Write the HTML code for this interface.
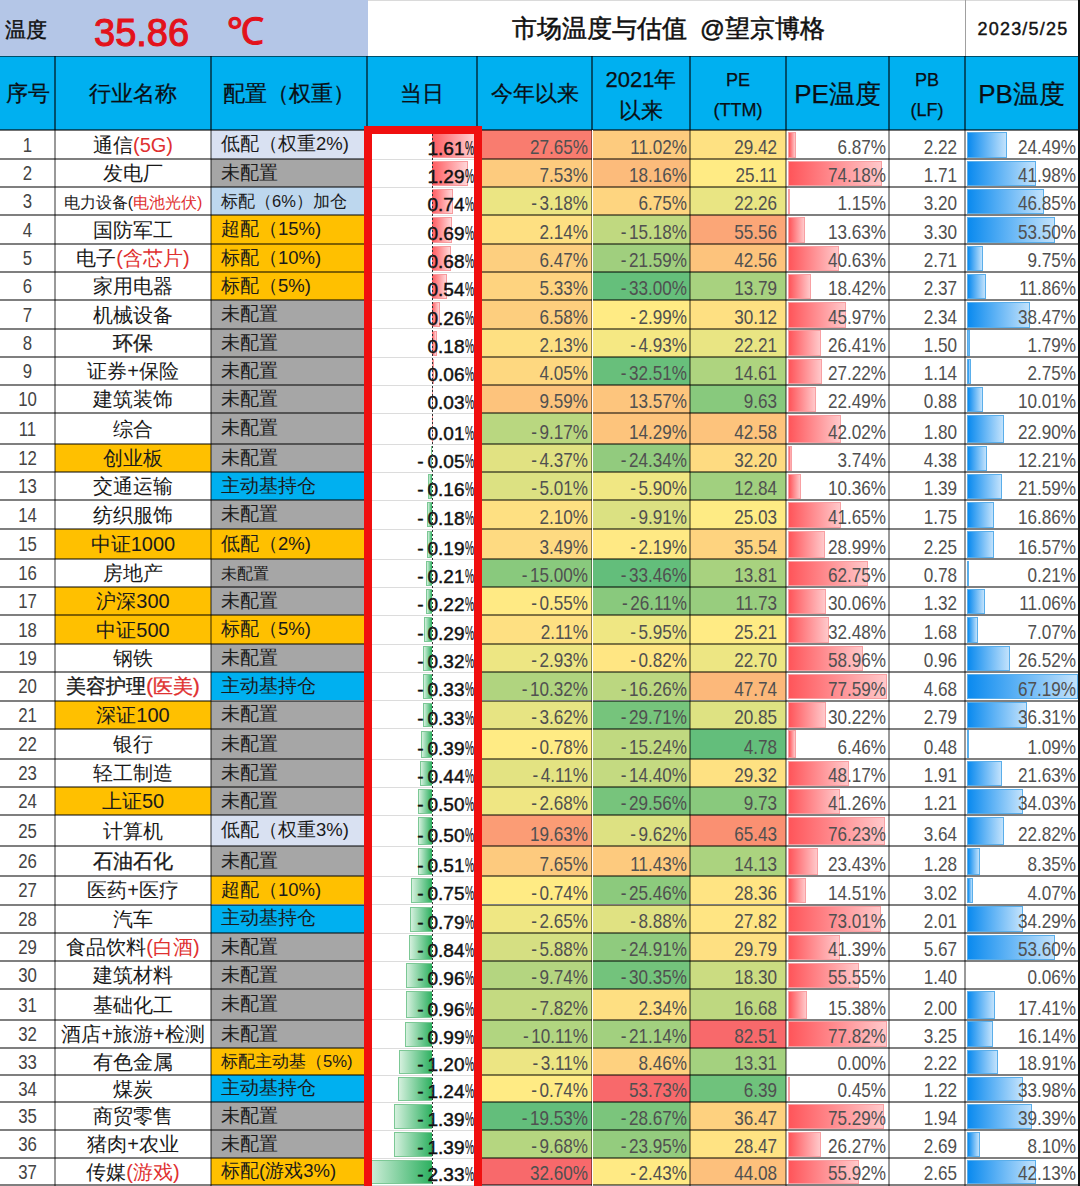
<!DOCTYPE html>
<html><head><meta charset="utf-8">
<style>
html,body{margin:0;padding:0;}
body{width:1080px;height:1186px;overflow:hidden;position:relative;background:#fff;
 font-family:"Liberation Sans",sans-serif;color:#222;}
div{position:absolute;box-sizing:border-box;}
.t{white-space:nowrap;line-height:1;}
.r{color:#E03030;}
.sm{font-size:16px;}
.bd{-webkit-text-stroke:0.35px currentColor;}
.sm2{font-size:19px;}
.num{font-size:21px;color:#505050;transform-origin:100% 50%;transform:scaleX(0.815);}
.day{font-size:19px;font-weight:normal;-webkit-text-stroke:0.45px #111;color:#111;transform-origin:100% 50%;}
.day i{font-style:normal;font-weight:normal;-webkit-text-stroke:0.2px #111;display:inline-block;width:8.5px;}
.day i span{display:inline-block;transform-origin:0 0;transform:scaleX(0.52);font-size:20px;}
.idx{font-size:20px;color:#444;transform:scaleX(0.84);text-align:center;}
.cjk{font-size:20px;color:#1a1a1a;}
.cfg{font-size:18.5px;color:#1a1a1a;}
.hd{font-size:22px;color:#0a0f14;text-align:center;-webkit-text-stroke:0.25px #0a0f14;}
</style></head><body>
<div style="left:0.0px;top:0.0px;width:368.0px;height:56.0px;background:#B4C6E7;"></div><div style="left:368.0px;top:0.0px;width:712.0px;height:1.0px;background:#DADADA;"></div><div style="left:964.5px;top:0.0px;width:1.5px;height:56.0px;background:#A0A0A0;"></div><div class="t" style="left:5px;top:19px;font-size:21px;color:#111;-webkit-text-stroke:0.4px #111;">温度</div><div class="t" style="left:94px;top:14px;font-size:38px;color:#E3121B;-webkit-text-stroke:1.1px #E3121B;">35.86</div><div class="t" style="left:227px;top:13px;font-size:37px;color:#E3121B;-webkit-text-stroke:1.1px #E3121B;">℃</div><div class="t" style="left:512px;top:17px;font-size:24.5px;color:#111;-webkit-text-stroke:0.5px #111;">市场温度与估值<span style="margin-left:13px">@</span>望京博格</div><div class="t" style="left:977.5px;top:20px;font-size:18px;color:#111;letter-spacing:1.2px;-webkit-text-stroke:0.4px #111;">2023/5/25</div><div style="left:0.0px;top:56.0px;width:1078.0px;height:74.0px;background:#00B0F0;"></div><div class="t hd" style="left:0px;width:55px;top:83px;font-size:22px;">序号</div><div class="t hd" style="left:55px;width:156px;top:83px;font-size:22px;">行业名称</div><div class="t hd" style="left:211px;width:156px;top:83px;font-size:22px;">配置（权重）</div><div class="t hd" style="left:367px;width:110px;top:83px;font-size:22px;">当日</div><div class="t hd" style="left:477px;width:115px;top:83px;font-size:22px;">今年以来</div><div class="t hd" style="left:592px;width:98px;top:63.5px;font-size:22px;line-height:31px;">2021年<br>以来</div><div class="t hd" style="left:690px;width:96px;top:65px;font-size:19px;line-height:30px;transform:scaleX(0.95);">PE<br>(TTM)</div><div class="t hd" style="left:786px;width:103px;top:81px;font-size:26px;">PE温度</div><div class="t hd" style="left:889px;width:76px;top:65px;font-size:19px;line-height:30px;transform:scaleX(0.95);">PB<br>(LF)</div><div class="t hd" style="left:965px;width:113px;top:81px;font-size:26px;">PB温度</div><div style="left:211.0px;top:130.0px;width:156.0px;height:29.4px;background:#D9E1F2;"></div><div style="left:477.0px;top:130.0px;width:115.0px;height:29.4px;background:#F97C6F;"></div><div style="left:592.0px;top:130.0px;width:98.0px;height:29.4px;background:#FDCB7E;"></div><div style="left:690.0px;top:130.0px;width:96.0px;height:29.4px;background:#FEE182;"></div><div style="left:432.3px;top:132.0px;width:44.7px;height:25.9px;background:linear-gradient(to right,#FF5A5F,#FFD6D8);border:1px solid #F79A9D;border-left:none;"></div><div style="left:787.5px;top:131.5px;width:8.8px;height:26.9px;background:linear-gradient(to right,#FF555A,#FFC8CA);border:1px solid #F8A0A3;"></div><div style="left:966.5px;top:131.5px;width:40.5px;height:26.9px;background:linear-gradient(to right,#0A8AEF,#C2E2FC);border:1px solid #5AAEEA;"></div><div class="t idx" style="left:0px;width:55px;top:134.7px;">1</div><div class="t cjk" style="left:55px;width:156px;top:134.7px;text-align:center;">通信<span class="r">(5G)</span></div><div class="t cfg" style="left:221px;top:135.2px;">低配（权重2%)</div><div class="t day" style="left:273px;width:200px;top:138.1px;text-align:right;">1.61<i><span>%</span></i></div><div class="t num" style="left:388px;width:200px;top:136.4px;text-align:right;">27.65%</div><div class="t num" style="left:487px;width:200px;top:136.4px;text-align:right;">11.02%</div><div class="t num" style="left:577px;width:200px;top:136.4px;text-align:right;">29.42</div><div class="t num" style="left:686px;width:200px;top:136.4px;text-align:right;">6.87%</div><div class="t num" style="left:757px;width:200px;top:136.4px;text-align:right;">2.22</div><div class="t num" style="left:876px;width:200px;top:136.4px;text-align:right;">24.49%</div><div style="left:211.0px;top:159.4px;width:156.0px;height:28.0px;background:#A6A6A6;"></div><div style="left:477.0px;top:159.4px;width:115.0px;height:28.0px;background:#FDCB7E;"></div><div style="left:592.0px;top:159.4px;width:98.0px;height:28.0px;background:#FCBB7B;"></div><div style="left:690.0px;top:159.4px;width:96.0px;height:28.0px;background:#FFEB84;"></div><div style="left:432.3px;top:161.4px;width:36.0px;height:24.5px;background:linear-gradient(to right,#FF5A5F,#FFD6D8);border:1px solid #F79A9D;border-left:none;"></div><div style="left:787.5px;top:160.9px;width:94.8px;height:25.5px;background:linear-gradient(to right,#FF555A,#FFC8CA);border:1px solid #F8A0A3;"></div><div style="left:966.5px;top:160.9px;width:69.4px;height:25.5px;background:linear-gradient(to right,#0A8AEF,#C2E2FC);border:1px solid #5AAEEA;"></div><div class="t idx" style="left:0px;width:55px;top:163.4px;">2</div><div class="t cjk" style="left:55px;width:156px;top:163.4px;text-align:center;">发电厂</div><div class="t cfg" style="left:221px;top:163.9px;">未配置</div><div class="t day" style="left:273px;width:200px;top:166.1px;text-align:right;">1.29<i><span>%</span></i></div><div class="t num" style="left:388px;width:200px;top:164.4px;text-align:right;">7.53%</div><div class="t num" style="left:487px;width:200px;top:164.4px;text-align:right;">18.16%</div><div class="t num" style="left:577px;width:200px;top:164.4px;text-align:right;">25.11</div><div class="t num" style="left:686px;width:200px;top:164.4px;text-align:right;">74.18%</div><div class="t num" style="left:757px;width:200px;top:164.4px;text-align:right;">1.71</div><div class="t num" style="left:876px;width:200px;top:164.4px;text-align:right;">41.98%</div><div style="left:211.0px;top:187.4px;width:156.0px;height:28.0px;background:#BDD7EE;"></div><div style="left:477.0px;top:187.4px;width:115.0px;height:28.0px;background:#EBE583;"></div><div style="left:592.0px;top:187.4px;width:98.0px;height:28.0px;background:#FED580;"></div><div style="left:690.0px;top:187.4px;width:96.0px;height:28.0px;background:#E9E583;"></div><div style="left:432.3px;top:189.4px;width:20.6px;height:24.5px;background:linear-gradient(to right,#FF5A5F,#FFD6D8);border:1px solid #F79A9D;border-left:none;"></div><div style="left:787.5px;top:188.9px;width:1.5px;height:25.5px;background:linear-gradient(to right,#FF555A,#FFC8CA);border:1px solid #F8A0A3;"></div><div style="left:966.5px;top:188.9px;width:77.4px;height:25.5px;background:linear-gradient(to right,#0A8AEF,#C2E2FC);border:1px solid #5AAEEA;"></div><div class="t idx" style="left:0px;width:55px;top:191.4px;">3</div><div class="t cjk" style="left:55px;width:156px;top:191.4px;text-align:center;"><span class="sm">电力设备(<span class="r">电池光伏)</span></span></div><div class="t cfg" style="left:221px;top:191.9px;"><span style="font-size:16.5px">标配（6%）加仓</span></div><div class="t day" style="left:273px;width:200px;top:194.1px;text-align:right;">0.74<i><span>%</span></i></div><div class="t num" style="left:388px;width:200px;top:192.4px;text-align:right;">-<span style="margin-left:3px"></span>3.18%</div><div class="t num" style="left:487px;width:200px;top:192.4px;text-align:right;">6.75%</div><div class="t num" style="left:577px;width:200px;top:192.4px;text-align:right;">22.26</div><div class="t num" style="left:686px;width:200px;top:192.4px;text-align:right;">1.15%</div><div class="t num" style="left:757px;width:200px;top:192.4px;text-align:right;">3.20</div><div class="t num" style="left:876px;width:200px;top:192.4px;text-align:right;">46.85%</div><div style="left:211.0px;top:215.4px;width:156.0px;height:28.9px;background:#FFC000;"></div><div style="left:477.0px;top:215.4px;width:115.0px;height:28.9px;background:#FEE082;"></div><div style="left:592.0px;top:215.4px;width:98.0px;height:28.9px;background:#C0D980;"></div><div style="left:690.0px;top:215.4px;width:96.0px;height:28.9px;background:#FBA677;"></div><div style="left:432.3px;top:217.4px;width:19.3px;height:25.4px;background:linear-gradient(to right,#FF5A5F,#FFD6D8);border:1px solid #F79A9D;border-left:none;"></div><div style="left:787.5px;top:216.9px;width:17.4px;height:26.4px;background:linear-gradient(to right,#FF555A,#FFC8CA);border:1px solid #F8A0A3;"></div><div style="left:966.5px;top:216.9px;width:88.4px;height:26.4px;background:linear-gradient(to right,#0A8AEF,#C2E2FC);border:1px solid #5AAEEA;"></div><div class="t idx" style="left:0px;width:55px;top:219.9px;">4</div><div class="t cjk" style="left:55px;width:156px;top:219.9px;text-align:center;">国防军工</div><div class="t cfg" style="left:221px;top:220.4px;">超配（15%)</div><div class="t day" style="left:273px;width:200px;top:223.0px;text-align:right;">0.69<i><span>%</span></i></div><div class="t num" style="left:388px;width:200px;top:221.3px;text-align:right;">2.14%</div><div class="t num" style="left:487px;width:200px;top:221.3px;text-align:right;">-<span style="margin-left:3px"></span>15.18%</div><div class="t num" style="left:577px;width:200px;top:221.3px;text-align:right;">55.56</div><div class="t num" style="left:686px;width:200px;top:221.3px;text-align:right;">13.63%</div><div class="t num" style="left:757px;width:200px;top:221.3px;text-align:right;">3.30</div><div class="t num" style="left:876px;width:200px;top:221.3px;text-align:right;">53.50%</div><div style="left:211.0px;top:244.3px;width:156.0px;height:28.1px;background:#FFC000;"></div><div style="left:477.0px;top:244.3px;width:115.0px;height:28.1px;background:#FDCF7F;"></div><div style="left:592.0px;top:244.3px;width:98.0px;height:28.1px;background:#A0CF7E;"></div><div style="left:690.0px;top:244.3px;width:96.0px;height:28.1px;background:#FDC37C;"></div><div style="left:432.3px;top:246.3px;width:19.0px;height:24.6px;background:linear-gradient(to right,#FF5A5F,#FFD6D8);border:1px solid #F79A9D;border-left:none;"></div><div style="left:787.5px;top:245.8px;width:51.9px;height:25.6px;background:linear-gradient(to right,#FF555A,#FFC8CA);border:1px solid #F8A0A3;"></div><div style="left:966.5px;top:245.8px;width:16.1px;height:25.6px;background:linear-gradient(to right,#0A8AEF,#C2E2FC);border:1px solid #5AAEEA;"></div><div class="t idx" style="left:0px;width:55px;top:248.4px;">5</div><div class="t cjk" style="left:55px;width:156px;top:248.4px;text-align:center;">电子<span class="r">(含芯片)</span></div><div class="t cfg" style="left:221px;top:248.9px;">标配（10%)</div><div class="t day" style="left:273px;width:200px;top:251.1px;text-align:right;">0.68<i><span>%</span></i></div><div class="t num" style="left:388px;width:200px;top:249.4px;text-align:right;">6.47%</div><div class="t num" style="left:487px;width:200px;top:249.4px;text-align:right;">-<span style="margin-left:3px"></span>21.59%</div><div class="t num" style="left:577px;width:200px;top:249.4px;text-align:right;">42.56</div><div class="t num" style="left:686px;width:200px;top:249.4px;text-align:right;">40.63%</div><div class="t num" style="left:757px;width:200px;top:249.4px;text-align:right;">2.71</div><div class="t num" style="left:876px;width:200px;top:249.4px;text-align:right;">9.75%</div><div style="left:211.0px;top:272.4px;width:156.0px;height:28.0px;background:#FFC000;"></div><div style="left:477.0px;top:272.4px;width:115.0px;height:28.0px;background:#FED37F;"></div><div style="left:592.0px;top:272.4px;width:98.0px;height:28.0px;background:#65BF7B;"></div><div style="left:690.0px;top:272.4px;width:96.0px;height:28.0px;background:#A8D27F;"></div><div style="left:432.3px;top:274.4px;width:15.1px;height:24.5px;background:linear-gradient(to right,#FF5A5F,#FFD6D8);border:1px solid #F79A9D;border-left:none;"></div><div style="left:787.5px;top:273.9px;width:23.6px;height:25.5px;background:linear-gradient(to right,#FF555A,#FFC8CA);border:1px solid #F8A0A3;"></div><div style="left:966.5px;top:273.9px;width:19.6px;height:25.5px;background:linear-gradient(to right,#0A8AEF,#C2E2FC);border:1px solid #5AAEEA;"></div><div class="t idx" style="left:0px;width:55px;top:276.4px;">6</div><div class="t cjk" style="left:55px;width:156px;top:276.4px;text-align:center;">家用电器</div><div class="t cfg" style="left:221px;top:276.9px;">标配（5%)</div><div class="t day" style="left:273px;width:200px;top:279.1px;text-align:right;">0.54<i><span>%</span></i></div><div class="t num" style="left:388px;width:200px;top:277.4px;text-align:right;">5.33%</div><div class="t num" style="left:487px;width:200px;top:277.4px;text-align:right;">-<span style="margin-left:3px"></span>33.00%</div><div class="t num" style="left:577px;width:200px;top:277.4px;text-align:right;">13.79</div><div class="t num" style="left:686px;width:200px;top:277.4px;text-align:right;">18.42%</div><div class="t num" style="left:757px;width:200px;top:277.4px;text-align:right;">2.37</div><div class="t num" style="left:876px;width:200px;top:277.4px;text-align:right;">11.86%</div><div style="left:211.0px;top:300.4px;width:156.0px;height:28.5px;background:#A6A6A6;"></div><div style="left:477.0px;top:300.4px;width:115.0px;height:28.5px;background:#FDCE7E;"></div><div style="left:592.0px;top:300.4px;width:98.0px;height:28.5px;background:#FFEB84;"></div><div style="left:690.0px;top:300.4px;width:96.0px;height:28.5px;background:#FEE082;"></div><div style="left:432.3px;top:302.4px;width:7.3px;height:25.0px;background:linear-gradient(to right,#FF5A5F,#FFD6D8);border:1px solid #F79A9D;border-left:none;"></div><div style="left:787.5px;top:301.9px;width:58.8px;height:26.0px;background:linear-gradient(to right,#FF555A,#FFC8CA);border:1px solid #F8A0A3;"></div><div style="left:966.5px;top:301.9px;width:63.6px;height:26.0px;background:linear-gradient(to right,#0A8AEF,#C2E2FC);border:1px solid #5AAEEA;"></div><div class="t idx" style="left:0px;width:55px;top:304.6px;">7</div><div class="t cjk" style="left:55px;width:156px;top:304.6px;text-align:center;">机械设备</div><div class="t cfg" style="left:221px;top:305.1px;">未配置</div><div class="t day" style="left:273px;width:200px;top:307.6px;text-align:right;">0.26<i><span>%</span></i></div><div class="t num" style="left:388px;width:200px;top:305.9px;text-align:right;">6.58%</div><div class="t num" style="left:487px;width:200px;top:305.9px;text-align:right;">-<span style="margin-left:3px"></span>2.99%</div><div class="t num" style="left:577px;width:200px;top:305.9px;text-align:right;">30.12</div><div class="t num" style="left:686px;width:200px;top:305.9px;text-align:right;">45.97%</div><div class="t num" style="left:757px;width:200px;top:305.9px;text-align:right;">2.34</div><div class="t num" style="left:876px;width:200px;top:305.9px;text-align:right;">38.47%</div><div style="left:211.0px;top:328.9px;width:156.0px;height:28.4px;background:#A6A6A6;"></div><div style="left:477.0px;top:328.9px;width:115.0px;height:28.4px;background:#FEE082;"></div><div style="left:592.0px;top:328.9px;width:98.0px;height:28.4px;background:#F5E883;"></div><div style="left:690.0px;top:328.9px;width:96.0px;height:28.4px;background:#E9E583;"></div><div style="left:432.3px;top:330.9px;width:5.0px;height:24.9px;background:linear-gradient(to right,#FF5A5F,#FFD6D8);border:1px solid #F79A9D;border-left:none;"></div><div style="left:787.5px;top:330.4px;width:33.8px;height:25.9px;background:linear-gradient(to right,#FF555A,#FFC8CA);border:1px solid #F8A0A3;"></div><div style="left:966.5px;top:330.4px;width:3.0px;height:25.9px;background:linear-gradient(to right,#0A8AEF,#C2E2FC);border:1px solid #5AAEEA;"></div><div class="t idx" style="left:0px;width:55px;top:333.1px;">8</div><div class="t cjk" style="left:55px;width:156px;top:333.1px;text-align:center;"><span class="bd">环保</span></div><div class="t cfg" style="left:221px;top:333.6px;">未配置</div><div class="t day" style="left:273px;width:200px;top:336.0px;text-align:right;">0.18<i><span>%</span></i></div><div class="t num" style="left:388px;width:200px;top:334.3px;text-align:right;">2.13%</div><div class="t num" style="left:487px;width:200px;top:334.3px;text-align:right;">-<span style="margin-left:3px"></span>4.93%</div><div class="t num" style="left:577px;width:200px;top:334.3px;text-align:right;">22.21</div><div class="t num" style="left:686px;width:200px;top:334.3px;text-align:right;">26.41%</div><div class="t num" style="left:757px;width:200px;top:334.3px;text-align:right;">1.50</div><div class="t num" style="left:876px;width:200px;top:334.3px;text-align:right;">1.79%</div><div style="left:211.0px;top:357.3px;width:156.0px;height:28.1px;background:#A6A6A6;"></div><div style="left:477.0px;top:357.3px;width:115.0px;height:28.1px;background:#FED880;"></div><div style="left:592.0px;top:357.3px;width:98.0px;height:28.1px;background:#68BF7B;"></div><div style="left:690.0px;top:357.3px;width:96.0px;height:28.1px;background:#AED47F;"></div><div style="left:432.3px;top:359.3px;width:1.7px;height:24.6px;background:linear-gradient(to right,#FF5A5F,#FFD6D8);border:1px solid #F79A9D;border-left:none;"></div><div style="left:787.5px;top:358.8px;width:34.8px;height:25.6px;background:linear-gradient(to right,#FF555A,#FFC8CA);border:1px solid #F8A0A3;"></div><div style="left:966.5px;top:358.8px;width:4.5px;height:25.6px;background:linear-gradient(to right,#0A8AEF,#C2E2FC);border:1px solid #5AAEEA;"></div><div class="t idx" style="left:0px;width:55px;top:361.4px;">9</div><div class="t cjk" style="left:55px;width:156px;top:361.4px;text-align:center;">证券+保险</div><div class="t cfg" style="left:221px;top:361.9px;">未配置</div><div class="t day" style="left:273px;width:200px;top:364.1px;text-align:right;">0.06<i><span>%</span></i></div><div class="t num" style="left:388px;width:200px;top:362.4px;text-align:right;">4.05%</div><div class="t num" style="left:487px;width:200px;top:362.4px;text-align:right;">-<span style="margin-left:3px"></span>32.51%</div><div class="t num" style="left:577px;width:200px;top:362.4px;text-align:right;">14.61</div><div class="t num" style="left:686px;width:200px;top:362.4px;text-align:right;">27.22%</div><div class="t num" style="left:757px;width:200px;top:362.4px;text-align:right;">1.14</div><div class="t num" style="left:876px;width:200px;top:362.4px;text-align:right;">2.75%</div><div style="left:211.0px;top:385.4px;width:156.0px;height:28.0px;background:#A6A6A6;"></div><div style="left:477.0px;top:385.4px;width:115.0px;height:28.0px;background:#FDC37C;"></div><div style="left:592.0px;top:385.4px;width:98.0px;height:28.0px;background:#FDC57D;"></div><div style="left:690.0px;top:385.4px;width:96.0px;height:28.0px;background:#88C97D;"></div><div style="left:432.3px;top:387.4px;width:0.8px;height:24.5px;background:linear-gradient(to right,#FF5A5F,#FFD6D8);border:1px solid #F79A9D;border-left:none;"></div><div style="left:787.5px;top:386.9px;width:28.8px;height:25.5px;background:linear-gradient(to right,#FF555A,#FFC8CA);border:1px solid #F8A0A3;"></div><div style="left:966.5px;top:386.9px;width:16.5px;height:25.5px;background:linear-gradient(to right,#0A8AEF,#C2E2FC);border:1px solid #5AAEEA;"></div><div class="t idx" style="left:0px;width:55px;top:389.4px;">10</div><div class="t cjk" style="left:55px;width:156px;top:389.4px;text-align:center;">建筑装饰</div><div class="t cfg" style="left:221px;top:389.9px;">未配置</div><div class="t day" style="left:273px;width:200px;top:392.1px;text-align:right;">0.03<i><span>%</span></i></div><div class="t num" style="left:388px;width:200px;top:390.4px;text-align:right;">9.59%</div><div class="t num" style="left:487px;width:200px;top:390.4px;text-align:right;">13.57%</div><div class="t num" style="left:577px;width:200px;top:390.4px;text-align:right;">9.63</div><div class="t num" style="left:686px;width:200px;top:390.4px;text-align:right;">22.49%</div><div class="t num" style="left:757px;width:200px;top:390.4px;text-align:right;">0.88</div><div class="t num" style="left:876px;width:200px;top:390.4px;text-align:right;">10.01%</div><div style="left:211.0px;top:413.4px;width:156.0px;height:30.9px;background:#A6A6A6;"></div><div style="left:477.0px;top:413.4px;width:115.0px;height:30.9px;background:#B9D780;"></div><div style="left:592.0px;top:413.4px;width:98.0px;height:30.9px;background:#FDC47C;"></div><div style="left:690.0px;top:413.4px;width:96.0px;height:30.9px;background:#FDC37C;"></div><div style="left:432.3px;top:415.4px;width:0.3px;height:27.4px;background:linear-gradient(to right,#FF5A5F,#FFD6D8);border:1px solid #F79A9D;border-left:none;"></div><div style="left:787.5px;top:414.9px;width:53.7px;height:28.4px;background:linear-gradient(to right,#FF555A,#FFC8CA);border:1px solid #F8A0A3;"></div><div style="left:966.5px;top:414.9px;width:37.8px;height:28.4px;background:linear-gradient(to right,#0A8AEF,#C2E2FC);border:1px solid #5AAEEA;"></div><div class="t idx" style="left:0px;width:55px;top:418.9px;">11</div><div class="t cjk" style="left:55px;width:156px;top:418.9px;text-align:center;">综合</div><div class="t cfg" style="left:221px;top:419.4px;">未配置</div><div class="t day" style="left:273px;width:200px;top:423.0px;text-align:right;">0.01<i><span>%</span></i></div><div class="t num" style="left:388px;width:200px;top:421.3px;text-align:right;">-<span style="margin-left:3px"></span>9.17%</div><div class="t num" style="left:487px;width:200px;top:421.3px;text-align:right;">14.29%</div><div class="t num" style="left:577px;width:200px;top:421.3px;text-align:right;">42.58</div><div class="t num" style="left:686px;width:200px;top:421.3px;text-align:right;">42.02%</div><div class="t num" style="left:757px;width:200px;top:421.3px;text-align:right;">1.80</div><div class="t num" style="left:876px;width:200px;top:421.3px;text-align:right;">22.90%</div><div style="left:55.0px;top:444.3px;width:156.0px;height:28.0px;background:#FFC000;"></div><div style="left:211.0px;top:444.3px;width:156.0px;height:28.0px;background:#A6A6A6;"></div><div style="left:477.0px;top:444.3px;width:115.0px;height:28.0px;background:#E1E282;"></div><div style="left:592.0px;top:444.3px;width:98.0px;height:28.0px;background:#92CB7E;"></div><div style="left:690.0px;top:444.3px;width:96.0px;height:28.0px;background:#FEDB81;"></div><div style="left:430.9px;top:446.3px;width:1.4px;height:24.5px;background:linear-gradient(to left,#2DB060,#D4F0DD);border:1px solid #7CC895;border-right:none;"></div><div style="left:787.5px;top:445.8px;width:4.8px;height:25.5px;background:linear-gradient(to right,#FF555A,#FFC8CA);border:1px solid #F8A0A3;"></div><div style="left:966.5px;top:445.8px;width:20.2px;height:25.5px;background:linear-gradient(to right,#0A8AEF,#C2E2FC);border:1px solid #5AAEEA;"></div><div class="t idx" style="left:0px;width:55px;top:448.3px;">12</div><div class="t cjk" style="left:55px;width:156px;top:448.3px;text-align:center;">创业板</div><div class="t cfg" style="left:221px;top:448.8px;">未配置</div><div class="t day" style="left:273px;width:200px;top:451.0px;text-align:right;">-<span style="margin-left:4px"></span>0.05<i><span>%</span></i></div><div class="t num" style="left:388px;width:200px;top:449.3px;text-align:right;">-<span style="margin-left:3px"></span>4.37%</div><div class="t num" style="left:487px;width:200px;top:449.3px;text-align:right;">-<span style="margin-left:3px"></span>24.34%</div><div class="t num" style="left:577px;width:200px;top:449.3px;text-align:right;">32.20</div><div class="t num" style="left:686px;width:200px;top:449.3px;text-align:right;">3.74%</div><div class="t num" style="left:757px;width:200px;top:449.3px;text-align:right;">4.38</div><div class="t num" style="left:876px;width:200px;top:449.3px;text-align:right;">12.21%</div><div style="left:211.0px;top:472.3px;width:156.0px;height:28.1px;background:#00B0F0;"></div><div style="left:477.0px;top:472.3px;width:115.0px;height:28.1px;background:#DCE182;"></div><div style="left:592.0px;top:472.3px;width:98.0px;height:28.1px;background:#F0E783;"></div><div style="left:690.0px;top:472.3px;width:96.0px;height:28.1px;background:#A1D07F;"></div><div style="left:427.8px;top:474.3px;width:4.5px;height:24.6px;background:linear-gradient(to left,#2DB060,#D4F0DD);border:1px solid #7CC895;border-right:none;"></div><div style="left:787.5px;top:473.8px;width:13.2px;height:25.6px;background:linear-gradient(to right,#FF555A,#FFC8CA);border:1px solid #F8A0A3;"></div><div style="left:966.5px;top:473.8px;width:35.7px;height:25.6px;background:linear-gradient(to right,#0A8AEF,#C2E2FC);border:1px solid #5AAEEA;"></div><div class="t idx" style="left:0px;width:55px;top:476.4px;">13</div><div class="t cjk" style="left:55px;width:156px;top:476.4px;text-align:center;">交通运输</div><div class="t cfg" style="left:221px;top:476.9px;">主动基持仓</div><div class="t day" style="left:273px;width:200px;top:479.1px;text-align:right;">-<span style="margin-left:4px"></span>0.16<i><span>%</span></i></div><div class="t num" style="left:388px;width:200px;top:477.4px;text-align:right;">-<span style="margin-left:3px"></span>5.01%</div><div class="t num" style="left:487px;width:200px;top:477.4px;text-align:right;">-<span style="margin-left:3px"></span>5.90%</div><div class="t num" style="left:577px;width:200px;top:477.4px;text-align:right;">12.84</div><div class="t num" style="left:686px;width:200px;top:477.4px;text-align:right;">10.36%</div><div class="t num" style="left:757px;width:200px;top:477.4px;text-align:right;">1.39</div><div class="t num" style="left:876px;width:200px;top:477.4px;text-align:right;">21.59%</div><div style="left:211.0px;top:500.4px;width:156.0px;height:28.6px;background:#A6A6A6;"></div><div style="left:477.0px;top:500.4px;width:115.0px;height:28.6px;background:#FEE082;"></div><div style="left:592.0px;top:500.4px;width:98.0px;height:28.6px;background:#DBE182;"></div><div style="left:690.0px;top:500.4px;width:96.0px;height:28.6px;background:#FEEB84;"></div><div style="left:427.3px;top:502.4px;width:5.0px;height:25.1px;background:linear-gradient(to left,#2DB060,#D4F0DD);border:1px solid #7CC895;border-right:none;"></div><div style="left:787.5px;top:501.9px;width:53.3px;height:26.1px;background:linear-gradient(to right,#FF555A,#FFC8CA);border:1px solid #F8A0A3;"></div><div style="left:966.5px;top:501.9px;width:27.9px;height:26.1px;background:linear-gradient(to right,#0A8AEF,#C2E2FC);border:1px solid #5AAEEA;"></div><div class="t idx" style="left:0px;width:55px;top:504.7px;">14</div><div class="t cjk" style="left:55px;width:156px;top:504.7px;text-align:center;">纺织服饰</div><div class="t cfg" style="left:221px;top:505.2px;">未配置</div><div class="t day" style="left:273px;width:200px;top:507.7px;text-align:right;">-<span style="margin-left:4px"></span>0.18<i><span>%</span></i></div><div class="t num" style="left:388px;width:200px;top:506.0px;text-align:right;">2.10%</div><div class="t num" style="left:487px;width:200px;top:506.0px;text-align:right;">-<span style="margin-left:3px"></span>9.91%</div><div class="t num" style="left:577px;width:200px;top:506.0px;text-align:right;">25.03</div><div class="t num" style="left:686px;width:200px;top:506.0px;text-align:right;">41.65%</div><div class="t num" style="left:757px;width:200px;top:506.0px;text-align:right;">1.75</div><div class="t num" style="left:876px;width:200px;top:506.0px;text-align:right;">16.86%</div><div style="left:55.0px;top:529.0px;width:156.0px;height:30.3px;background:#FFC000;"></div><div style="left:211.0px;top:529.0px;width:156.0px;height:30.3px;background:#FFC000;"></div><div style="left:477.0px;top:529.0px;width:115.0px;height:30.3px;background:#FEDA81;"></div><div style="left:592.0px;top:529.0px;width:98.0px;height:30.3px;background:#FFE984;"></div><div style="left:690.0px;top:529.0px;width:96.0px;height:30.3px;background:#FED37F;"></div><div style="left:427.0px;top:531.0px;width:5.3px;height:26.8px;background:linear-gradient(to left,#2DB060,#D4F0DD);border:1px solid #7CC895;border-right:none;"></div><div style="left:787.5px;top:530.5px;width:37.1px;height:27.8px;background:linear-gradient(to right,#FF555A,#FFC8CA);border:1px solid #F8A0A3;"></div><div style="left:966.5px;top:530.5px;width:27.4px;height:27.8px;background:linear-gradient(to right,#0A8AEF,#C2E2FC);border:1px solid #5AAEEA;"></div><div class="t idx" style="left:0px;width:55px;top:534.1px;">15</div><div class="t cjk" style="left:55px;width:156px;top:534.1px;text-align:center;">中证1000</div><div class="t cfg" style="left:221px;top:534.6px;">低配（2%)</div><div class="t day" style="left:273px;width:200px;top:538.0px;text-align:right;">-<span style="margin-left:4px"></span>0.19<i><span>%</span></i></div><div class="t num" style="left:388px;width:200px;top:536.3px;text-align:right;">3.49%</div><div class="t num" style="left:487px;width:200px;top:536.3px;text-align:right;">-<span style="margin-left:3px"></span>2.19%</div><div class="t num" style="left:577px;width:200px;top:536.3px;text-align:right;">35.54</div><div class="t num" style="left:686px;width:200px;top:536.3px;text-align:right;">28.99%</div><div class="t num" style="left:757px;width:200px;top:536.3px;text-align:right;">2.25</div><div class="t num" style="left:876px;width:200px;top:536.3px;text-align:right;">16.57%</div><div style="left:211.0px;top:559.3px;width:156.0px;height:28.0px;background:#A6A6A6;"></div><div style="left:477.0px;top:559.3px;width:115.0px;height:28.0px;background:#89C97D;"></div><div style="left:592.0px;top:559.3px;width:98.0px;height:28.0px;background:#63BE7B;"></div><div style="left:690.0px;top:559.3px;width:96.0px;height:28.0px;background:#A8D27F;"></div><div style="left:426.4px;top:561.3px;width:5.9px;height:24.5px;background:linear-gradient(to left,#2DB060,#D4F0DD);border:1px solid #7CC895;border-right:none;"></div><div style="left:787.5px;top:560.8px;width:80.2px;height:25.5px;background:linear-gradient(to right,#FF555A,#FFC8CA);border:1px solid #F8A0A3;"></div><div style="left:966.5px;top:560.8px;width:0.3px;height:25.5px;background:linear-gradient(to right,#0A8AEF,#C2E2FC);border:1px solid #5AAEEA;"></div><div class="t idx" style="left:0px;width:55px;top:563.3px;">16</div><div class="t cjk" style="left:55px;width:156px;top:563.3px;text-align:center;">房地产</div><div class="t cfg" style="left:221px;top:563.8px;"><span style="font-size:16px">未配置</span></div><div class="t day" style="left:273px;width:200px;top:566.0px;text-align:right;">-<span style="margin-left:4px"></span>0.21<i><span>%</span></i></div><div class="t num" style="left:388px;width:200px;top:564.3px;text-align:right;">-<span style="margin-left:3px"></span>15.00%</div><div class="t num" style="left:487px;width:200px;top:564.3px;text-align:right;">-<span style="margin-left:3px"></span>33.46%</div><div class="t num" style="left:577px;width:200px;top:564.3px;text-align:right;">13.81</div><div class="t num" style="left:686px;width:200px;top:564.3px;text-align:right;">62.75%</div><div class="t num" style="left:757px;width:200px;top:564.3px;text-align:right;">0.78</div><div class="t num" style="left:876px;width:200px;top:564.3px;text-align:right;">0.21%</div><div style="left:55.0px;top:587.3px;width:156.0px;height:28.1px;background:#FFC000;"></div><div style="left:211.0px;top:587.3px;width:156.0px;height:28.1px;background:#A6A6A6;"></div><div style="left:477.0px;top:587.3px;width:115.0px;height:28.1px;background:#FFEA84;"></div><div style="left:592.0px;top:587.3px;width:98.0px;height:28.1px;background:#89C97D;"></div><div style="left:690.0px;top:587.3px;width:96.0px;height:28.1px;background:#98CD7E;"></div><div style="left:426.2px;top:589.3px;width:6.1px;height:24.6px;background:linear-gradient(to left,#2DB060,#D4F0DD);border:1px solid #7CC895;border-right:none;"></div><div style="left:787.5px;top:588.8px;width:38.4px;height:25.6px;background:linear-gradient(to right,#FF555A,#FFC8CA);border:1px solid #F8A0A3;"></div><div style="left:966.5px;top:588.8px;width:18.3px;height:25.6px;background:linear-gradient(to right,#0A8AEF,#C2E2FC);border:1px solid #5AAEEA;"></div><div class="t idx" style="left:0px;width:55px;top:591.3px;">17</div><div class="t cjk" style="left:55px;width:156px;top:591.3px;text-align:center;">沪深300</div><div class="t cfg" style="left:221px;top:591.8px;">未配置</div><div class="t day" style="left:273px;width:200px;top:594.1px;text-align:right;">-<span style="margin-left:4px"></span>0.22<i><span>%</span></i></div><div class="t num" style="left:388px;width:200px;top:592.4px;text-align:right;">-<span style="margin-left:3px"></span>0.55%</div><div class="t num" style="left:487px;width:200px;top:592.4px;text-align:right;">-<span style="margin-left:3px"></span>26.11%</div><div class="t num" style="left:577px;width:200px;top:592.4px;text-align:right;">11.73</div><div class="t num" style="left:686px;width:200px;top:592.4px;text-align:right;">30.06%</div><div class="t num" style="left:757px;width:200px;top:592.4px;text-align:right;">1.32</div><div class="t num" style="left:876px;width:200px;top:592.4px;text-align:right;">11.06%</div><div style="left:55.0px;top:615.4px;width:156.0px;height:28.6px;background:#FFC000;"></div><div style="left:211.0px;top:615.4px;width:156.0px;height:28.6px;background:#FFC000;"></div><div style="left:477.0px;top:615.4px;width:115.0px;height:28.6px;background:#FEE082;"></div><div style="left:592.0px;top:615.4px;width:98.0px;height:28.6px;background:#EFE783;"></div><div style="left:690.0px;top:615.4px;width:96.0px;height:28.6px;background:#FFEB84;"></div><div style="left:424.2px;top:617.4px;width:8.1px;height:25.1px;background:linear-gradient(to left,#2DB060,#D4F0DD);border:1px solid #7CC895;border-right:none;"></div><div style="left:787.5px;top:616.9px;width:41.5px;height:26.1px;background:linear-gradient(to right,#FF555A,#FFC8CA);border:1px solid #F8A0A3;"></div><div style="left:966.5px;top:616.9px;width:11.7px;height:26.1px;background:linear-gradient(to right,#0A8AEF,#C2E2FC);border:1px solid #5AAEEA;"></div><div class="t idx" style="left:0px;width:55px;top:619.7px;">18</div><div class="t cjk" style="left:55px;width:156px;top:619.7px;text-align:center;">中证500</div><div class="t cfg" style="left:221px;top:620.2px;">标配（5%)</div><div class="t day" style="left:273px;width:200px;top:622.7px;text-align:right;">-<span style="margin-left:4px"></span>0.29<i><span>%</span></i></div><div class="t num" style="left:388px;width:200px;top:621.0px;text-align:right;">2.11%</div><div class="t num" style="left:487px;width:200px;top:621.0px;text-align:right;">-<span style="margin-left:3px"></span>5.95%</div><div class="t num" style="left:577px;width:200px;top:621.0px;text-align:right;">25.21</div><div class="t num" style="left:686px;width:200px;top:621.0px;text-align:right;">32.48%</div><div class="t num" style="left:757px;width:200px;top:621.0px;text-align:right;">1.68</div><div class="t num" style="left:876px;width:200px;top:621.0px;text-align:right;">7.07%</div><div style="left:211.0px;top:644.0px;width:156.0px;height:28.2px;background:#A6A6A6;"></div><div style="left:477.0px;top:644.0px;width:115.0px;height:28.2px;background:#EDE683;"></div><div style="left:592.0px;top:644.0px;width:98.0px;height:28.2px;background:#FFE683;"></div><div style="left:690.0px;top:644.0px;width:96.0px;height:28.2px;background:#EDE683;"></div><div style="left:423.4px;top:646.0px;width:8.9px;height:24.7px;background:linear-gradient(to left,#2DB060,#D4F0DD);border:1px solid #7CC895;border-right:none;"></div><div style="left:787.5px;top:645.5px;width:75.4px;height:25.7px;background:linear-gradient(to right,#FF555A,#FFC8CA);border:1px solid #F8A0A3;"></div><div style="left:966.5px;top:645.5px;width:43.8px;height:25.7px;background:linear-gradient(to right,#0A8AEF,#C2E2FC);border:1px solid #5AAEEA;"></div><div class="t idx" style="left:0px;width:55px;top:648.1px;">19</div><div class="t cjk" style="left:55px;width:156px;top:648.1px;text-align:center;">钢铁</div><div class="t cfg" style="left:221px;top:648.6px;">未配置</div><div class="t day" style="left:273px;width:200px;top:650.9px;text-align:right;">-<span style="margin-left:4px"></span>0.32<i><span>%</span></i></div><div class="t num" style="left:388px;width:200px;top:649.2px;text-align:right;">-<span style="margin-left:3px"></span>2.93%</div><div class="t num" style="left:487px;width:200px;top:649.2px;text-align:right;">-<span style="margin-left:3px"></span>0.82%</div><div class="t num" style="left:577px;width:200px;top:649.2px;text-align:right;">22.70</div><div class="t num" style="left:686px;width:200px;top:649.2px;text-align:right;">58.96%</div><div class="t num" style="left:757px;width:200px;top:649.2px;text-align:right;">0.96</div><div class="t num" style="left:876px;width:200px;top:649.2px;text-align:right;">26.52%</div><div style="left:211.0px;top:672.2px;width:156.0px;height:28.3px;background:#00B0F0;"></div><div style="left:477.0px;top:672.2px;width:115.0px;height:28.3px;background:#B0D47F;"></div><div style="left:592.0px;top:672.2px;width:98.0px;height:28.3px;background:#BBD780;"></div><div style="left:690.0px;top:672.2px;width:96.0px;height:28.3px;background:#FCB87A;"></div><div style="left:423.1px;top:674.2px;width:9.2px;height:24.8px;background:linear-gradient(to left,#2DB060,#D4F0DD);border:1px solid #7CC895;border-right:none;"></div><div style="left:787.5px;top:673.7px;width:99.2px;height:25.8px;background:linear-gradient(to right,#FF555A,#FFC8CA);border:1px solid #F8A0A3;"></div><div style="left:966.5px;top:673.7px;width:111.0px;height:25.8px;background:linear-gradient(to right,#0A8AEF,#C2E2FC);border:1px solid #5AAEEA;"></div><div class="t idx" style="left:0px;width:55px;top:676.4px;">20</div><div class="t cjk" style="left:55px;width:156px;top:676.4px;text-align:center;"><span class="bd">美容护理<span class="r">(医美)</span></span></div><div class="t cfg" style="left:221px;top:676.9px;">主动基持仓</div><div class="t day" style="left:273px;width:200px;top:679.2px;text-align:right;">-<span style="margin-left:4px"></span>0.33<i><span>%</span></i></div><div class="t num" style="left:388px;width:200px;top:677.5px;text-align:right;">-<span style="margin-left:3px"></span>10.32%</div><div class="t num" style="left:487px;width:200px;top:677.5px;text-align:right;">-<span style="margin-left:3px"></span>16.26%</div><div class="t num" style="left:577px;width:200px;top:677.5px;text-align:right;">47.74</div><div class="t num" style="left:686px;width:200px;top:677.5px;text-align:right;">77.59%</div><div class="t num" style="left:757px;width:200px;top:677.5px;text-align:right;">4.68</div><div class="t num" style="left:876px;width:200px;top:677.5px;text-align:right;">67.19%</div><div style="left:55.0px;top:700.5px;width:156.0px;height:28.3px;background:#FFC000;"></div><div style="left:211.0px;top:700.5px;width:156.0px;height:28.3px;background:#A6A6A6;"></div><div style="left:477.0px;top:700.5px;width:115.0px;height:28.3px;background:#E7E483;"></div><div style="left:592.0px;top:700.5px;width:98.0px;height:28.3px;background:#76C47C;"></div><div style="left:690.0px;top:700.5px;width:96.0px;height:28.3px;background:#DEE282;"></div><div style="left:423.1px;top:702.5px;width:9.2px;height:24.8px;background:linear-gradient(to left,#2DB060,#D4F0DD);border:1px solid #7CC895;border-right:none;"></div><div style="left:787.5px;top:702.0px;width:38.6px;height:25.8px;background:linear-gradient(to right,#FF555A,#FFC8CA);border:1px solid #F8A0A3;"></div><div style="left:966.5px;top:702.0px;width:60.0px;height:25.8px;background:linear-gradient(to right,#0A8AEF,#C2E2FC);border:1px solid #5AAEEA;"></div><div class="t idx" style="left:0px;width:55px;top:704.6px;">21</div><div class="t cjk" style="left:55px;width:156px;top:704.6px;text-align:center;">深证100</div><div class="t cfg" style="left:221px;top:705.1px;">未配置</div><div class="t day" style="left:273px;width:200px;top:707.5px;text-align:right;">-<span style="margin-left:4px"></span>0.33<i><span>%</span></i></div><div class="t num" style="left:388px;width:200px;top:705.8px;text-align:right;">-<span style="margin-left:3px"></span>3.62%</div><div class="t num" style="left:487px;width:200px;top:705.8px;text-align:right;">-<span style="margin-left:3px"></span>29.71%</div><div class="t num" style="left:577px;width:200px;top:705.8px;text-align:right;">20.85</div><div class="t num" style="left:686px;width:200px;top:705.8px;text-align:right;">30.22%</div><div class="t num" style="left:757px;width:200px;top:705.8px;text-align:right;">2.79</div><div class="t num" style="left:876px;width:200px;top:705.8px;text-align:right;">36.31%</div><div style="left:211.0px;top:728.8px;width:156.0px;height:30.4px;background:#A6A6A6;"></div><div style="left:477.0px;top:728.8px;width:115.0px;height:30.4px;background:#FFEB84;"></div><div style="left:592.0px;top:728.8px;width:98.0px;height:30.4px;background:#C0D980;"></div><div style="left:690.0px;top:728.8px;width:96.0px;height:30.4px;background:#63BE7B;"></div><div style="left:421.4px;top:730.8px;width:10.9px;height:26.9px;background:linear-gradient(to left,#2DB060,#D4F0DD);border:1px solid #7CC895;border-right:none;"></div><div style="left:787.5px;top:730.3px;width:8.3px;height:27.9px;background:linear-gradient(to right,#FF555A,#FFC8CA);border:1px solid #F8A0A3;"></div><div style="left:966.5px;top:730.3px;width:1.8px;height:27.9px;background:linear-gradient(to right,#0A8AEF,#C2E2FC);border:1px solid #5AAEEA;"></div><div class="t idx" style="left:0px;width:55px;top:734.0px;">22</div><div class="t cjk" style="left:55px;width:156px;top:734.0px;text-align:center;">银行</div><div class="t cfg" style="left:221px;top:734.5px;">未配置</div><div class="t day" style="left:273px;width:200px;top:737.9px;text-align:right;">-<span style="margin-left:4px"></span>0.39<i><span>%</span></i></div><div class="t num" style="left:388px;width:200px;top:736.2px;text-align:right;">-<span style="margin-left:3px"></span>0.78%</div><div class="t num" style="left:487px;width:200px;top:736.2px;text-align:right;">-<span style="margin-left:3px"></span>15.24%</div><div class="t num" style="left:577px;width:200px;top:736.2px;text-align:right;">4.78</div><div class="t num" style="left:686px;width:200px;top:736.2px;text-align:right;">6.46%</div><div class="t num" style="left:757px;width:200px;top:736.2px;text-align:right;">0.48</div><div class="t num" style="left:876px;width:200px;top:736.2px;text-align:right;">1.09%</div><div style="left:211.0px;top:759.2px;width:156.0px;height:28.0px;background:#A6A6A6;"></div><div style="left:477.0px;top:759.2px;width:115.0px;height:28.0px;background:#E3E382;"></div><div style="left:592.0px;top:759.2px;width:98.0px;height:28.0px;background:#C4DA81;"></div><div style="left:690.0px;top:759.2px;width:96.0px;height:28.0px;background:#FEE182;"></div><div style="left:420.0px;top:761.2px;width:12.3px;height:24.5px;background:linear-gradient(to left,#2DB060,#D4F0DD);border:1px solid #7CC895;border-right:none;"></div><div style="left:787.5px;top:760.7px;width:61.6px;height:25.5px;background:linear-gradient(to right,#FF555A,#FFC8CA);border:1px solid #F8A0A3;"></div><div style="left:966.5px;top:760.7px;width:35.7px;height:25.5px;background:linear-gradient(to right,#0A8AEF,#C2E2FC);border:1px solid #5AAEEA;"></div><div class="t idx" style="left:0px;width:55px;top:763.2px;">23</div><div class="t cjk" style="left:55px;width:156px;top:763.2px;text-align:center;">轻工制造</div><div class="t cfg" style="left:221px;top:763.7px;">未配置</div><div class="t day" style="left:273px;width:200px;top:765.9px;text-align:right;">-<span style="margin-left:4px"></span>0.44<i><span>%</span></i></div><div class="t num" style="left:388px;width:200px;top:764.2px;text-align:right;">-<span style="margin-left:3px"></span>4.11%</div><div class="t num" style="left:487px;width:200px;top:764.2px;text-align:right;">-<span style="margin-left:3px"></span>14.40%</div><div class="t num" style="left:577px;width:200px;top:764.2px;text-align:right;">29.32</div><div class="t num" style="left:686px;width:200px;top:764.2px;text-align:right;">48.17%</div><div class="t num" style="left:757px;width:200px;top:764.2px;text-align:right;">1.91</div><div class="t num" style="left:876px;width:200px;top:764.2px;text-align:right;">21.63%</div><div style="left:55.0px;top:787.2px;width:156.0px;height:28.2px;background:#FFC000;"></div><div style="left:211.0px;top:787.2px;width:156.0px;height:28.2px;background:#A6A6A6;"></div><div style="left:477.0px;top:787.2px;width:115.0px;height:28.2px;background:#EFE683;"></div><div style="left:592.0px;top:787.2px;width:98.0px;height:28.2px;background:#77C47C;"></div><div style="left:690.0px;top:787.2px;width:96.0px;height:28.2px;background:#89C97D;"></div><div style="left:418.4px;top:789.2px;width:13.9px;height:24.7px;background:linear-gradient(to left,#2DB060,#D4F0DD);border:1px solid #7CC895;border-right:none;"></div><div style="left:787.5px;top:788.7px;width:52.8px;height:25.7px;background:linear-gradient(to right,#FF555A,#FFC8CA);border:1px solid #F8A0A3;"></div><div style="left:966.5px;top:788.7px;width:56.2px;height:25.7px;background:linear-gradient(to right,#0A8AEF,#C2E2FC);border:1px solid #5AAEEA;"></div><div class="t idx" style="left:0px;width:55px;top:791.3px;">24</div><div class="t cjk" style="left:55px;width:156px;top:791.3px;text-align:center;">上证50</div><div class="t cfg" style="left:221px;top:791.8px;">未配置</div><div class="t day" style="left:273px;width:200px;top:794.1px;text-align:right;">-<span style="margin-left:4px"></span>0.50<i><span>%</span></i></div><div class="t num" style="left:388px;width:200px;top:792.4px;text-align:right;">-<span style="margin-left:3px"></span>2.68%</div><div class="t num" style="left:487px;width:200px;top:792.4px;text-align:right;">-<span style="margin-left:3px"></span>29.56%</div><div class="t num" style="left:577px;width:200px;top:792.4px;text-align:right;">9.73</div><div class="t num" style="left:686px;width:200px;top:792.4px;text-align:right;">41.26%</div><div class="t num" style="left:757px;width:200px;top:792.4px;text-align:right;">1.21</div><div class="t num" style="left:876px;width:200px;top:792.4px;text-align:right;">34.03%</div><div style="left:211.0px;top:815.4px;width:156.0px;height:31.0px;background:#D9E1F2;"></div><div style="left:477.0px;top:815.4px;width:115.0px;height:31.0px;background:#FB9C75;"></div><div style="left:592.0px;top:815.4px;width:98.0px;height:31.0px;background:#DDE182;"></div><div style="left:690.0px;top:815.4px;width:96.0px;height:31.0px;background:#FA9072;"></div><div style="left:418.4px;top:817.4px;width:13.9px;height:27.5px;background:linear-gradient(to left,#2DB060,#D4F0DD);border:1px solid #7CC895;border-right:none;"></div><div style="left:787.5px;top:816.9px;width:97.5px;height:28.5px;background:linear-gradient(to right,#FF555A,#FFC8CA);border:1px solid #F8A0A3;"></div><div style="left:966.5px;top:816.9px;width:37.7px;height:28.5px;background:linear-gradient(to right,#0A8AEF,#C2E2FC);border:1px solid #5AAEEA;"></div><div class="t idx" style="left:0px;width:55px;top:820.9px;">25</div><div class="t cjk" style="left:55px;width:156px;top:820.9px;text-align:center;">计算机</div><div class="t cfg" style="left:221px;top:821.4px;">低配（权重3%)</div><div class="t day" style="left:273px;width:200px;top:825.1px;text-align:right;">-<span style="margin-left:4px"></span>0.50<i><span>%</span></i></div><div class="t num" style="left:388px;width:200px;top:823.4px;text-align:right;">19.63%</div><div class="t num" style="left:487px;width:200px;top:823.4px;text-align:right;">-<span style="margin-left:3px"></span>9.62%</div><div class="t num" style="left:577px;width:200px;top:823.4px;text-align:right;">65.43</div><div class="t num" style="left:686px;width:200px;top:823.4px;text-align:right;">76.23%</div><div class="t num" style="left:757px;width:200px;top:823.4px;text-align:right;">3.64</div><div class="t num" style="left:876px;width:200px;top:823.4px;text-align:right;">22.82%</div><div style="left:211.0px;top:846.4px;width:156.0px;height:29.9px;background:#A6A6A6;"></div><div style="left:477.0px;top:846.4px;width:115.0px;height:29.9px;background:#FDCA7E;"></div><div style="left:592.0px;top:846.4px;width:98.0px;height:29.9px;background:#FDCA7E;"></div><div style="left:690.0px;top:846.4px;width:96.0px;height:29.9px;background:#ABD37F;"></div><div style="left:418.1px;top:848.4px;width:14.2px;height:26.4px;background:linear-gradient(to left,#2DB060,#D4F0DD);border:1px solid #7CC895;border-right:none;"></div><div style="left:787.5px;top:847.9px;width:30.0px;height:27.4px;background:linear-gradient(to right,#FF555A,#FFC8CA);border:1px solid #F8A0A3;"></div><div style="left:966.5px;top:847.9px;width:13.8px;height:27.4px;background:linear-gradient(to right,#0A8AEF,#C2E2FC);border:1px solid #5AAEEA;"></div><div class="t idx" style="left:0px;width:55px;top:851.3px;">26</div><div class="t cjk" style="left:55px;width:156px;top:851.3px;text-align:center;"><span class="bd">石油石化</span></div><div class="t cfg" style="left:221px;top:851.8px;">未配置</div><div class="t day" style="left:273px;width:200px;top:855.0px;text-align:right;">-<span style="margin-left:4px"></span>0.51<i><span>%</span></i></div><div class="t num" style="left:388px;width:200px;top:853.3px;text-align:right;">7.65%</div><div class="t num" style="left:487px;width:200px;top:853.3px;text-align:right;">11.43%</div><div class="t num" style="left:577px;width:200px;top:853.3px;text-align:right;">14.13</div><div class="t num" style="left:686px;width:200px;top:853.3px;text-align:right;">23.43%</div><div class="t num" style="left:757px;width:200px;top:853.3px;text-align:right;">1.28</div><div class="t num" style="left:876px;width:200px;top:853.3px;text-align:right;">8.35%</div><div style="left:211.0px;top:876.3px;width:156.0px;height:28.2px;background:#FFC000;"></div><div style="left:477.0px;top:876.3px;width:115.0px;height:28.2px;background:#FFEB84;"></div><div style="left:592.0px;top:876.3px;width:98.0px;height:28.2px;background:#8CCA7D;"></div><div style="left:690.0px;top:876.3px;width:96.0px;height:28.2px;background:#FFE483;"></div><div style="left:411.4px;top:878.3px;width:20.9px;height:24.7px;background:linear-gradient(to left,#2DB060,#D4F0DD);border:1px solid #7CC895;border-right:none;"></div><div style="left:787.5px;top:877.8px;width:18.6px;height:25.7px;background:linear-gradient(to right,#FF555A,#FFC8CA);border:1px solid #F8A0A3;"></div><div style="left:966.5px;top:877.8px;width:6.7px;height:25.7px;background:linear-gradient(to right,#0A8AEF,#C2E2FC);border:1px solid #5AAEEA;"></div><div class="t idx" style="left:0px;width:55px;top:880.4px;">27</div><div class="t cjk" style="left:55px;width:156px;top:880.4px;text-align:center;">医药+医疗</div><div class="t cfg" style="left:221px;top:880.9px;">超配（10%)</div><div class="t day" style="left:273px;width:200px;top:883.2px;text-align:right;">-<span style="margin-left:4px"></span>0.75<i><span>%</span></i></div><div class="t num" style="left:388px;width:200px;top:881.5px;text-align:right;">-<span style="margin-left:3px"></span>0.74%</div><div class="t num" style="left:487px;width:200px;top:881.5px;text-align:right;">-<span style="margin-left:3px"></span>25.46%</div><div class="t num" style="left:577px;width:200px;top:881.5px;text-align:right;">28.36</div><div class="t num" style="left:686px;width:200px;top:881.5px;text-align:right;">14.51%</div><div class="t num" style="left:757px;width:200px;top:881.5px;text-align:right;">3.02</div><div class="t num" style="left:876px;width:200px;top:881.5px;text-align:right;">4.07%</div><div style="left:211.0px;top:904.5px;width:156.0px;height:28.6px;background:#00B0F0;"></div><div style="left:477.0px;top:904.5px;width:115.0px;height:28.6px;background:#EFE783;"></div><div style="left:592.0px;top:904.5px;width:98.0px;height:28.6px;background:#E0E282;"></div><div style="left:690.0px;top:904.5px;width:96.0px;height:28.6px;background:#FFE583;"></div><div style="left:410.3px;top:906.5px;width:22.0px;height:25.1px;background:linear-gradient(to left,#2DB060,#D4F0DD);border:1px solid #7CC895;border-right:none;"></div><div style="left:787.5px;top:906.0px;width:93.3px;height:26.1px;background:linear-gradient(to right,#FF555A,#FFC8CA);border:1px solid #F8A0A3;"></div><div style="left:966.5px;top:906.0px;width:56.6px;height:26.1px;background:linear-gradient(to right,#0A8AEF,#C2E2FC);border:1px solid #5AAEEA;"></div><div class="t idx" style="left:0px;width:55px;top:908.8px;">28</div><div class="t cjk" style="left:55px;width:156px;top:908.8px;text-align:center;">汽车</div><div class="t cfg" style="left:221px;top:909.3px;">主动基持仓</div><div class="t day" style="left:273px;width:200px;top:911.8px;text-align:right;">-<span style="margin-left:4px"></span>0.79<i><span>%</span></i></div><div class="t num" style="left:388px;width:200px;top:910.1px;text-align:right;">-<span style="margin-left:3px"></span>2.65%</div><div class="t num" style="left:487px;width:200px;top:910.1px;text-align:right;">-<span style="margin-left:3px"></span>8.88%</div><div class="t num" style="left:577px;width:200px;top:910.1px;text-align:right;">27.82</div><div class="t num" style="left:686px;width:200px;top:910.1px;text-align:right;">73.01%</div><div class="t num" style="left:757px;width:200px;top:910.1px;text-align:right;">2.01</div><div class="t num" style="left:876px;width:200px;top:910.1px;text-align:right;">34.29%</div><div style="left:211.0px;top:933.1px;width:156.0px;height:28.3px;background:#A6A6A6;"></div><div style="left:477.0px;top:933.1px;width:115.0px;height:28.3px;background:#D5DF82;"></div><div style="left:592.0px;top:933.1px;width:98.0px;height:28.3px;background:#8FCB7E;"></div><div style="left:690.0px;top:933.1px;width:96.0px;height:28.3px;background:#FEE082;"></div><div style="left:408.9px;top:935.1px;width:23.4px;height:24.8px;background:linear-gradient(to left,#2DB060,#D4F0DD);border:1px solid #7CC895;border-right:none;"></div><div style="left:787.5px;top:934.6px;width:52.9px;height:25.8px;background:linear-gradient(to right,#FF555A,#FFC8CA);border:1px solid #F8A0A3;"></div><div style="left:966.5px;top:934.6px;width:88.5px;height:25.8px;background:linear-gradient(to right,#0A8AEF,#C2E2FC);border:1px solid #5AAEEA;"></div><div class="t idx" style="left:0px;width:55px;top:937.2px;">29</div><div class="t cjk" style="left:55px;width:156px;top:937.2px;text-align:center;">食品饮料<span class="r">(白酒)</span></div><div class="t cfg" style="left:221px;top:937.8px;">未配置</div><div class="t day" style="left:273px;width:200px;top:940.1px;text-align:right;">-<span style="margin-left:4px"></span>0.84<i><span>%</span></i></div><div class="t num" style="left:388px;width:200px;top:938.4px;text-align:right;">-<span style="margin-left:3px"></span>5.88%</div><div class="t num" style="left:487px;width:200px;top:938.4px;text-align:right;">-<span style="margin-left:3px"></span>24.91%</div><div class="t num" style="left:577px;width:200px;top:938.4px;text-align:right;">29.79</div><div class="t num" style="left:686px;width:200px;top:938.4px;text-align:right;">41.39%</div><div class="t num" style="left:757px;width:200px;top:938.4px;text-align:right;">5.67</div><div class="t num" style="left:876px;width:200px;top:938.4px;text-align:right;">53.60%</div><div style="left:211.0px;top:961.4px;width:156.0px;height:27.8px;background:#A6A6A6;"></div><div style="left:477.0px;top:961.4px;width:115.0px;height:27.8px;background:#B4D580;"></div><div style="left:592.0px;top:961.4px;width:98.0px;height:27.8px;background:#73C37C;"></div><div style="left:690.0px;top:961.4px;width:96.0px;height:27.8px;background:#CBDC81;"></div><div style="left:405.5px;top:963.4px;width:26.8px;height:24.3px;background:linear-gradient(to left,#2DB060,#D4F0DD);border:1px solid #7CC895;border-right:none;"></div><div style="left:787.5px;top:962.9px;width:71.0px;height:25.3px;background:linear-gradient(to right,#FF555A,#FFC8CA);border:1px solid #F8A0A3;"></div><div class="t idx" style="left:0px;width:55px;top:965.3px;">30</div><div class="t cjk" style="left:55px;width:156px;top:965.3px;text-align:center;">建筑材料</div><div class="t cfg" style="left:221px;top:965.8px;">未配置</div><div class="t day" style="left:273px;width:200px;top:967.9px;text-align:right;">-<span style="margin-left:4px"></span>0.96<i><span>%</span></i></div><div class="t num" style="left:388px;width:200px;top:966.2px;text-align:right;">-<span style="margin-left:3px"></span>9.74%</div><div class="t num" style="left:487px;width:200px;top:966.2px;text-align:right;">-<span style="margin-left:3px"></span>30.35%</div><div class="t num" style="left:577px;width:200px;top:966.2px;text-align:right;">18.30</div><div class="t num" style="left:686px;width:200px;top:966.2px;text-align:right;">55.55%</div><div class="t num" style="left:757px;width:200px;top:966.2px;text-align:right;">1.40</div><div class="t num" style="left:876px;width:200px;top:966.2px;text-align:right;">0.06%</div><div style="left:211.0px;top:989.2px;width:156.0px;height:30.6px;background:#A6A6A6;"></div><div style="left:477.0px;top:989.2px;width:115.0px;height:30.6px;background:#C4DA81;"></div><div style="left:592.0px;top:989.2px;width:98.0px;height:30.6px;background:#FEDF82;"></div><div style="left:690.0px;top:989.2px;width:96.0px;height:30.6px;background:#BED880;"></div><div style="left:405.5px;top:991.2px;width:26.8px;height:27.1px;background:linear-gradient(to left,#2DB060,#D4F0DD);border:1px solid #7CC895;border-right:none;"></div><div style="left:787.5px;top:990.7px;width:19.7px;height:28.1px;background:linear-gradient(to right,#FF555A,#FFC8CA);border:1px solid #F8A0A3;"></div><div style="left:966.5px;top:990.7px;width:28.8px;height:28.1px;background:linear-gradient(to right,#0A8AEF,#C2E2FC);border:1px solid #5AAEEA;"></div><div class="t idx" style="left:0px;width:55px;top:994.5px;">31</div><div class="t cjk" style="left:55px;width:156px;top:994.5px;text-align:center;">基础化工</div><div class="t cfg" style="left:221px;top:995.0px;">未配置</div><div class="t day" style="left:273px;width:200px;top:998.5px;text-align:right;">-<span style="margin-left:4px"></span>0.96<i><span>%</span></i></div><div class="t num" style="left:388px;width:200px;top:996.8px;text-align:right;">-<span style="margin-left:3px"></span>7.82%</div><div class="t num" style="left:487px;width:200px;top:996.8px;text-align:right;">2.34%</div><div class="t num" style="left:577px;width:200px;top:996.8px;text-align:right;">16.68</div><div class="t num" style="left:686px;width:200px;top:996.8px;text-align:right;">15.38%</div><div class="t num" style="left:757px;width:200px;top:996.8px;text-align:right;">2.00</div><div class="t num" style="left:876px;width:200px;top:996.8px;text-align:right;">17.41%</div><div style="left:211.0px;top:1019.8px;width:156.0px;height:28.5px;background:#A6A6A6;"></div><div style="left:477.0px;top:1019.8px;width:115.0px;height:28.5px;background:#B1D580;"></div><div style="left:592.0px;top:1019.8px;width:98.0px;height:28.5px;background:#A2D07F;"></div><div style="left:690.0px;top:1019.8px;width:96.0px;height:28.5px;background:#F8696B;"></div><div style="left:404.7px;top:1021.8px;width:27.6px;height:25.0px;background:linear-gradient(to left,#2DB060,#D4F0DD);border:1px solid #7CC895;border-right:none;"></div><div style="left:787.5px;top:1021.3px;width:99.5px;height:26.0px;background:linear-gradient(to right,#FF555A,#FFC8CA);border:1px solid #F8A0A3;"></div><div style="left:966.5px;top:1021.3px;width:26.7px;height:26.0px;background:linear-gradient(to right,#0A8AEF,#C2E2FC);border:1px solid #5AAEEA;"></div><div class="t idx" style="left:0px;width:55px;top:1024.0px;">32</div><div class="t cjk" style="left:55px;width:156px;top:1024.0px;text-align:center;">酒店+旅游+检测</div><div class="t cfg" style="left:221px;top:1024.5px;">未配置</div><div class="t day" style="left:273px;width:200px;top:1027.0px;text-align:right;">-<span style="margin-left:4px"></span>0.99<i><span>%</span></i></div><div class="t num" style="left:388px;width:200px;top:1025.3px;text-align:right;">-<span style="margin-left:3px"></span>10.11%</div><div class="t num" style="left:487px;width:200px;top:1025.3px;text-align:right;">-<span style="margin-left:3px"></span>21.14%</div><div class="t num" style="left:577px;width:200px;top:1025.3px;text-align:right;">82.51</div><div class="t num" style="left:686px;width:200px;top:1025.3px;text-align:right;">77.82%</div><div class="t num" style="left:757px;width:200px;top:1025.3px;text-align:right;">3.25</div><div class="t num" style="left:876px;width:200px;top:1025.3px;text-align:right;">16.14%</div><div style="left:211.0px;top:1048.3px;width:156.0px;height:27.1px;background:#FFC000;"></div><div style="left:477.0px;top:1048.3px;width:115.0px;height:27.1px;background:#ECE583;"></div><div style="left:592.0px;top:1048.3px;width:98.0px;height:27.1px;background:#FED17F;"></div><div style="left:690.0px;top:1048.3px;width:96.0px;height:27.1px;background:#A4D17F;"></div><div style="left:398.8px;top:1050.3px;width:33.5px;height:23.6px;background:linear-gradient(to left,#2DB060,#D4F0DD);border:1px solid #7CC895;border-right:none;"></div><div style="left:966.5px;top:1049.8px;width:31.2px;height:24.6px;background:linear-gradient(to right,#0A8AEF,#C2E2FC);border:1px solid #5AAEEA;"></div><div class="t idx" style="left:0px;width:55px;top:1051.8px;">33</div><div class="t cjk" style="left:55px;width:156px;top:1051.8px;text-align:center;">有色金属</div><div class="t cfg" style="left:221px;top:1052.3px;"><span style="font-size:16.7px">标配主动基（5%)</span></div><div class="t day" style="left:273px;width:200px;top:1054.1px;text-align:right;">-<span style="margin-left:4px"></span>1.20<i><span>%</span></i></div><div class="t num" style="left:388px;width:200px;top:1052.4px;text-align:right;">-<span style="margin-left:3px"></span>3.11%</div><div class="t num" style="left:487px;width:200px;top:1052.4px;text-align:right;">8.46%</div><div class="t num" style="left:577px;width:200px;top:1052.4px;text-align:right;">13.31</div><div class="t num" style="left:686px;width:200px;top:1052.4px;text-align:right;">0.00%</div><div class="t num" style="left:757px;width:200px;top:1052.4px;text-align:right;">2.22</div><div class="t num" style="left:876px;width:200px;top:1052.4px;text-align:right;">18.91%</div><div style="left:211.0px;top:1075.4px;width:156.0px;height:27.0px;background:#00B0F0;"></div><div style="left:477.0px;top:1075.4px;width:115.0px;height:27.0px;background:#FFEB84;"></div><div style="left:592.0px;top:1075.4px;width:98.0px;height:27.0px;background:#F8696B;"></div><div style="left:690.0px;top:1075.4px;width:96.0px;height:27.0px;background:#6FC27C;"></div><div style="left:397.7px;top:1077.4px;width:34.6px;height:23.5px;background:linear-gradient(to left,#2DB060,#D4F0DD);border:1px solid #7CC895;border-right:none;"></div><div style="left:787.5px;top:1076.9px;width:0.6px;height:24.5px;background:linear-gradient(to right,#FF555A,#FFC8CA);border:1px solid #F8A0A3;"></div><div style="left:966.5px;top:1076.9px;width:56.1px;height:24.5px;background:linear-gradient(to right,#0A8AEF,#C2E2FC);border:1px solid #5AAEEA;"></div><div class="t idx" style="left:0px;width:55px;top:1078.9px;">34</div><div class="t cjk" style="left:55px;width:156px;top:1078.9px;text-align:center;">煤炭</div><div class="t cfg" style="left:221px;top:1079.4px;">主动基持仓</div><div class="t day" style="left:273px;width:200px;top:1081.1px;text-align:right;">-<span style="margin-left:4px"></span>1.24<i><span>%</span></i></div><div class="t num" style="left:388px;width:200px;top:1079.4px;text-align:right;">-<span style="margin-left:3px"></span>0.74%</div><div class="t num" style="left:487px;width:200px;top:1079.4px;text-align:right;">53.73%</div><div class="t num" style="left:577px;width:200px;top:1079.4px;text-align:right;">6.39</div><div class="t num" style="left:686px;width:200px;top:1079.4px;text-align:right;">0.45%</div><div class="t num" style="left:757px;width:200px;top:1079.4px;text-align:right;">1.22</div><div class="t num" style="left:876px;width:200px;top:1079.4px;text-align:right;">33.98%</div><div style="left:211.0px;top:1102.4px;width:156.0px;height:28.0px;background:#A6A6A6;"></div><div style="left:477.0px;top:1102.4px;width:115.0px;height:28.0px;background:#63BE7B;"></div><div style="left:592.0px;top:1102.4px;width:98.0px;height:28.0px;background:#7BC57C;"></div><div style="left:690.0px;top:1102.4px;width:96.0px;height:28.0px;background:#FED17F;"></div><div style="left:393.5px;top:1104.4px;width:38.8px;height:24.5px;background:linear-gradient(to left,#2DB060,#D4F0DD);border:1px solid #7CC895;border-right:none;"></div><div style="left:787.5px;top:1103.9px;width:96.3px;height:25.5px;background:linear-gradient(to right,#FF555A,#FFC8CA);border:1px solid #F8A0A3;"></div><div style="left:966.5px;top:1103.9px;width:65.1px;height:25.5px;background:linear-gradient(to right,#0A8AEF,#C2E2FC);border:1px solid #5AAEEA;"></div><div class="t idx" style="left:0px;width:55px;top:1106.4px;">35</div><div class="t cjk" style="left:55px;width:156px;top:1106.4px;text-align:center;">商贸零售</div><div class="t cfg" style="left:221px;top:1106.9px;">未配置</div><div class="t day" style="left:273px;width:200px;top:1109.1px;text-align:right;">-<span style="margin-left:4px"></span>1.39<i><span>%</span></i></div><div class="t num" style="left:388px;width:200px;top:1107.4px;text-align:right;">-<span style="margin-left:3px"></span>19.53%</div><div class="t num" style="left:487px;width:200px;top:1107.4px;text-align:right;">-<span style="margin-left:3px"></span>28.67%</div><div class="t num" style="left:577px;width:200px;top:1107.4px;text-align:right;">36.47</div><div class="t num" style="left:686px;width:200px;top:1107.4px;text-align:right;">75.29%</div><div class="t num" style="left:757px;width:200px;top:1107.4px;text-align:right;">1.94</div><div class="t num" style="left:876px;width:200px;top:1107.4px;text-align:right;">39.39%</div><div style="left:211.0px;top:1130.4px;width:156.0px;height:27.7px;background:#A6A6A6;"></div><div style="left:477.0px;top:1130.4px;width:115.0px;height:27.7px;background:#B5D680;"></div><div style="left:592.0px;top:1130.4px;width:98.0px;height:27.7px;background:#94CC7E;"></div><div style="left:690.0px;top:1130.4px;width:96.0px;height:27.7px;background:#FFE383;"></div><div style="left:393.5px;top:1132.4px;width:38.8px;height:24.2px;background:linear-gradient(to left,#2DB060,#D4F0DD);border:1px solid #7CC895;border-right:none;"></div><div style="left:787.5px;top:1131.9px;width:33.6px;height:25.2px;background:linear-gradient(to right,#FF555A,#FFC8CA);border:1px solid #F8A0A3;"></div><div style="left:966.5px;top:1131.9px;width:13.4px;height:25.2px;background:linear-gradient(to right,#0A8AEF,#C2E2FC);border:1px solid #5AAEEA;"></div><div class="t idx" style="left:0px;width:55px;top:1134.2px;">36</div><div class="t cjk" style="left:55px;width:156px;top:1134.2px;text-align:center;">猪肉+农业</div><div class="t cfg" style="left:221px;top:1134.8px;">未配置</div><div class="t day" style="left:273px;width:200px;top:1136.8px;text-align:right;">-<span style="margin-left:4px"></span>1.39<i><span>%</span></i></div><div class="t num" style="left:388px;width:200px;top:1135.1px;text-align:right;">-<span style="margin-left:3px"></span>9.68%</div><div class="t num" style="left:487px;width:200px;top:1135.1px;text-align:right;">-<span style="margin-left:3px"></span>23.95%</div><div class="t num" style="left:577px;width:200px;top:1135.1px;text-align:right;">28.47</div><div class="t num" style="left:686px;width:200px;top:1135.1px;text-align:right;">26.27%</div><div class="t num" style="left:757px;width:200px;top:1135.1px;text-align:right;">2.69</div><div class="t num" style="left:876px;width:200px;top:1135.1px;text-align:right;">8.10%</div><div style="left:211.0px;top:1158.1px;width:156.0px;height:27.1px;background:#FFC000;"></div><div style="left:477.0px;top:1158.1px;width:115.0px;height:27.1px;background:#F8696B;"></div><div style="left:592.0px;top:1158.1px;width:98.0px;height:27.1px;background:#FFEA84;"></div><div style="left:690.0px;top:1158.1px;width:96.0px;height:27.1px;background:#FDC07C;"></div><div style="left:367.3px;top:1160.1px;width:65.0px;height:23.6px;background:linear-gradient(to left,#2DB060,#D4F0DD);border:1px solid #7CC895;border-right:none;"></div><div style="left:787.5px;top:1159.6px;width:71.5px;height:24.6px;background:linear-gradient(to right,#FF555A,#FFC8CA);border:1px solid #F8A0A3;"></div><div style="left:966.5px;top:1159.6px;width:69.6px;height:24.6px;background:linear-gradient(to right,#0A8AEF,#C2E2FC);border:1px solid #5AAEEA;"></div><div class="t idx" style="left:0px;width:55px;top:1161.7px;">37</div><div class="t cjk" style="left:55px;width:156px;top:1161.7px;text-align:center;">传媒<span class="r">(游戏)</span></div><div class="t cfg" style="left:221px;top:1162.2px;">标配(游戏3%)</div><div class="t day" style="left:273px;width:200px;top:1163.9px;text-align:right;">-<span style="margin-left:4px"></span>2.33<i><span>%</span></i></div><div class="t num" style="left:388px;width:200px;top:1162.2px;text-align:right;">32.60%</div><div class="t num" style="left:487px;width:200px;top:1162.2px;text-align:right;">-<span style="margin-left:3px"></span>2.43%</div><div class="t num" style="left:577px;width:200px;top:1162.2px;text-align:right;">44.08</div><div class="t num" style="left:686px;width:200px;top:1162.2px;text-align:right;">55.92%</div><div class="t num" style="left:757px;width:200px;top:1162.2px;text-align:right;">2.65</div><div class="t num" style="left:876px;width:200px;top:1162.2px;text-align:right;">42.13%</div><div style="left:0.0px;top:129.0px;width:1078.0px;height:2.0px;background:rgba(0,0,0,0.55);"></div><div style="left:0.0px;top:158.4px;width:367.0px;height:2.0px;background:rgba(0,0,0,0.5);"></div><div style="left:367.0px;top:158.9px;width:110.0px;height:1.0px;background:#DCDCDC;"></div><div style="left:477.0px;top:158.4px;width:601.0px;height:2.0px;background:rgba(0,0,0,0.5);"></div><div style="left:0.0px;top:186.4px;width:367.0px;height:2.0px;background:rgba(0,0,0,0.5);"></div><div style="left:367.0px;top:186.9px;width:110.0px;height:1.0px;background:#DCDCDC;"></div><div style="left:477.0px;top:186.4px;width:601.0px;height:2.0px;background:rgba(0,0,0,0.5);"></div><div style="left:0.0px;top:214.4px;width:367.0px;height:2.0px;background:rgba(0,0,0,0.5);"></div><div style="left:367.0px;top:214.9px;width:110.0px;height:1.0px;background:#DCDCDC;"></div><div style="left:477.0px;top:214.4px;width:601.0px;height:2.0px;background:rgba(0,0,0,0.5);"></div><div style="left:0.0px;top:243.3px;width:367.0px;height:2.0px;background:rgba(0,0,0,0.5);"></div><div style="left:367.0px;top:243.8px;width:110.0px;height:1.0px;background:#DCDCDC;"></div><div style="left:477.0px;top:243.3px;width:601.0px;height:2.0px;background:rgba(0,0,0,0.5);"></div><div style="left:0.0px;top:271.4px;width:367.0px;height:2.0px;background:rgba(0,0,0,0.5);"></div><div style="left:367.0px;top:271.9px;width:110.0px;height:1.0px;background:#DCDCDC;"></div><div style="left:477.0px;top:271.4px;width:601.0px;height:2.0px;background:rgba(0,0,0,0.5);"></div><div style="left:0.0px;top:299.4px;width:367.0px;height:2.0px;background:rgba(0,0,0,0.5);"></div><div style="left:367.0px;top:299.9px;width:110.0px;height:1.0px;background:#DCDCDC;"></div><div style="left:477.0px;top:299.4px;width:601.0px;height:2.0px;background:rgba(0,0,0,0.5);"></div><div style="left:0.0px;top:327.9px;width:367.0px;height:2.0px;background:rgba(0,0,0,0.5);"></div><div style="left:367.0px;top:328.4px;width:110.0px;height:1.0px;background:#DCDCDC;"></div><div style="left:477.0px;top:327.9px;width:601.0px;height:2.0px;background:rgba(0,0,0,0.5);"></div><div style="left:0.0px;top:356.3px;width:367.0px;height:2.0px;background:rgba(0,0,0,0.5);"></div><div style="left:367.0px;top:356.8px;width:110.0px;height:1.0px;background:#DCDCDC;"></div><div style="left:477.0px;top:356.3px;width:601.0px;height:2.0px;background:rgba(0,0,0,0.5);"></div><div style="left:0.0px;top:384.4px;width:367.0px;height:2.0px;background:rgba(0,0,0,0.5);"></div><div style="left:367.0px;top:384.9px;width:110.0px;height:1.0px;background:#DCDCDC;"></div><div style="left:477.0px;top:384.4px;width:601.0px;height:2.0px;background:rgba(0,0,0,0.5);"></div><div style="left:0.0px;top:412.4px;width:367.0px;height:2.0px;background:rgba(0,0,0,0.5);"></div><div style="left:367.0px;top:412.9px;width:110.0px;height:1.0px;background:#DCDCDC;"></div><div style="left:477.0px;top:412.4px;width:601.0px;height:2.0px;background:rgba(0,0,0,0.5);"></div><div style="left:0.0px;top:443.3px;width:367.0px;height:2.0px;background:rgba(0,0,0,0.5);"></div><div style="left:367.0px;top:443.8px;width:110.0px;height:1.0px;background:#DCDCDC;"></div><div style="left:477.0px;top:443.3px;width:601.0px;height:2.0px;background:rgba(0,0,0,0.5);"></div><div style="left:0.0px;top:471.3px;width:367.0px;height:2.0px;background:rgba(0,0,0,0.5);"></div><div style="left:367.0px;top:471.8px;width:110.0px;height:1.0px;background:#DCDCDC;"></div><div style="left:477.0px;top:471.3px;width:601.0px;height:2.0px;background:rgba(0,0,0,0.5);"></div><div style="left:0.0px;top:499.4px;width:367.0px;height:2.0px;background:rgba(0,0,0,0.5);"></div><div style="left:367.0px;top:499.9px;width:110.0px;height:1.0px;background:#DCDCDC;"></div><div style="left:477.0px;top:499.4px;width:601.0px;height:2.0px;background:rgba(0,0,0,0.5);"></div><div style="left:0.0px;top:528.0px;width:367.0px;height:2.0px;background:rgba(0,0,0,0.5);"></div><div style="left:367.0px;top:528.5px;width:110.0px;height:1.0px;background:#DCDCDC;"></div><div style="left:477.0px;top:528.0px;width:601.0px;height:2.0px;background:rgba(0,0,0,0.5);"></div><div style="left:0.0px;top:558.3px;width:367.0px;height:2.0px;background:rgba(0,0,0,0.5);"></div><div style="left:367.0px;top:558.8px;width:110.0px;height:1.0px;background:#DCDCDC;"></div><div style="left:477.0px;top:558.3px;width:601.0px;height:2.0px;background:rgba(0,0,0,0.5);"></div><div style="left:0.0px;top:586.3px;width:367.0px;height:2.0px;background:rgba(0,0,0,0.5);"></div><div style="left:367.0px;top:586.8px;width:110.0px;height:1.0px;background:#DCDCDC;"></div><div style="left:477.0px;top:586.3px;width:601.0px;height:2.0px;background:rgba(0,0,0,0.5);"></div><div style="left:0.0px;top:614.4px;width:367.0px;height:2.0px;background:rgba(0,0,0,0.5);"></div><div style="left:367.0px;top:614.9px;width:110.0px;height:1.0px;background:#DCDCDC;"></div><div style="left:477.0px;top:614.4px;width:601.0px;height:2.0px;background:rgba(0,0,0,0.5);"></div><div style="left:0.0px;top:643.0px;width:367.0px;height:2.0px;background:rgba(0,0,0,0.5);"></div><div style="left:367.0px;top:643.5px;width:110.0px;height:1.0px;background:#DCDCDC;"></div><div style="left:477.0px;top:643.0px;width:601.0px;height:2.0px;background:rgba(0,0,0,0.5);"></div><div style="left:0.0px;top:671.2px;width:367.0px;height:2.0px;background:rgba(0,0,0,0.5);"></div><div style="left:367.0px;top:671.7px;width:110.0px;height:1.0px;background:#DCDCDC;"></div><div style="left:477.0px;top:671.2px;width:601.0px;height:2.0px;background:rgba(0,0,0,0.5);"></div><div style="left:0.0px;top:699.5px;width:367.0px;height:2.0px;background:rgba(0,0,0,0.5);"></div><div style="left:367.0px;top:700.0px;width:110.0px;height:1.0px;background:#DCDCDC;"></div><div style="left:477.0px;top:699.5px;width:601.0px;height:2.0px;background:rgba(0,0,0,0.5);"></div><div style="left:0.0px;top:727.8px;width:367.0px;height:2.0px;background:rgba(0,0,0,0.5);"></div><div style="left:367.0px;top:728.3px;width:110.0px;height:1.0px;background:#DCDCDC;"></div><div style="left:477.0px;top:727.8px;width:601.0px;height:2.0px;background:rgba(0,0,0,0.5);"></div><div style="left:0.0px;top:758.2px;width:367.0px;height:2.0px;background:rgba(0,0,0,0.5);"></div><div style="left:367.0px;top:758.7px;width:110.0px;height:1.0px;background:#DCDCDC;"></div><div style="left:477.0px;top:758.2px;width:601.0px;height:2.0px;background:rgba(0,0,0,0.5);"></div><div style="left:0.0px;top:786.2px;width:367.0px;height:2.0px;background:rgba(0,0,0,0.5);"></div><div style="left:367.0px;top:786.7px;width:110.0px;height:1.0px;background:#DCDCDC;"></div><div style="left:477.0px;top:786.2px;width:601.0px;height:2.0px;background:rgba(0,0,0,0.5);"></div><div style="left:0.0px;top:814.4px;width:367.0px;height:2.0px;background:rgba(0,0,0,0.5);"></div><div style="left:367.0px;top:814.9px;width:110.0px;height:1.0px;background:#DCDCDC;"></div><div style="left:477.0px;top:814.4px;width:601.0px;height:2.0px;background:rgba(0,0,0,0.5);"></div><div style="left:0.0px;top:845.4px;width:367.0px;height:2.0px;background:rgba(0,0,0,0.5);"></div><div style="left:367.0px;top:845.9px;width:110.0px;height:1.0px;background:#DCDCDC;"></div><div style="left:477.0px;top:845.4px;width:601.0px;height:2.0px;background:rgba(0,0,0,0.5);"></div><div style="left:0.0px;top:875.3px;width:367.0px;height:2.0px;background:rgba(0,0,0,0.5);"></div><div style="left:367.0px;top:875.8px;width:110.0px;height:1.0px;background:#DCDCDC;"></div><div style="left:477.0px;top:875.3px;width:601.0px;height:2.0px;background:rgba(0,0,0,0.5);"></div><div style="left:0.0px;top:903.5px;width:367.0px;height:2.0px;background:rgba(0,0,0,0.5);"></div><div style="left:367.0px;top:904.0px;width:110.0px;height:1.0px;background:#DCDCDC;"></div><div style="left:477.0px;top:903.5px;width:601.0px;height:2.0px;background:rgba(0,0,0,0.5);"></div><div style="left:0.0px;top:932.1px;width:367.0px;height:2.0px;background:rgba(0,0,0,0.5);"></div><div style="left:367.0px;top:932.6px;width:110.0px;height:1.0px;background:#DCDCDC;"></div><div style="left:477.0px;top:932.1px;width:601.0px;height:2.0px;background:rgba(0,0,0,0.5);"></div><div style="left:0.0px;top:960.4px;width:367.0px;height:2.0px;background:rgba(0,0,0,0.5);"></div><div style="left:367.0px;top:960.9px;width:110.0px;height:1.0px;background:#DCDCDC;"></div><div style="left:477.0px;top:960.4px;width:601.0px;height:2.0px;background:rgba(0,0,0,0.5);"></div><div style="left:0.0px;top:988.2px;width:367.0px;height:2.0px;background:rgba(0,0,0,0.5);"></div><div style="left:367.0px;top:988.7px;width:110.0px;height:1.0px;background:#DCDCDC;"></div><div style="left:477.0px;top:988.2px;width:601.0px;height:2.0px;background:rgba(0,0,0,0.5);"></div><div style="left:0.0px;top:1018.8px;width:367.0px;height:2.0px;background:rgba(0,0,0,0.5);"></div><div style="left:367.0px;top:1019.3px;width:110.0px;height:1.0px;background:#DCDCDC;"></div><div style="left:477.0px;top:1018.8px;width:601.0px;height:2.0px;background:rgba(0,0,0,0.5);"></div><div style="left:0.0px;top:1047.3px;width:367.0px;height:2.0px;background:rgba(0,0,0,0.5);"></div><div style="left:367.0px;top:1047.8px;width:110.0px;height:1.0px;background:#DCDCDC;"></div><div style="left:477.0px;top:1047.3px;width:601.0px;height:2.0px;background:rgba(0,0,0,0.5);"></div><div style="left:0.0px;top:1074.4px;width:367.0px;height:2.0px;background:rgba(0,0,0,0.5);"></div><div style="left:367.0px;top:1074.9px;width:110.0px;height:1.0px;background:#DCDCDC;"></div><div style="left:477.0px;top:1074.4px;width:601.0px;height:2.0px;background:rgba(0,0,0,0.5);"></div><div style="left:0.0px;top:1101.4px;width:367.0px;height:2.0px;background:rgba(0,0,0,0.5);"></div><div style="left:367.0px;top:1101.9px;width:110.0px;height:1.0px;background:#DCDCDC;"></div><div style="left:477.0px;top:1101.4px;width:601.0px;height:2.0px;background:rgba(0,0,0,0.5);"></div><div style="left:0.0px;top:1129.4px;width:367.0px;height:2.0px;background:rgba(0,0,0,0.5);"></div><div style="left:367.0px;top:1129.9px;width:110.0px;height:1.0px;background:#DCDCDC;"></div><div style="left:477.0px;top:1129.4px;width:601.0px;height:2.0px;background:rgba(0,0,0,0.5);"></div><div style="left:0.0px;top:1157.1px;width:367.0px;height:2.0px;background:rgba(0,0,0,0.5);"></div><div style="left:367.0px;top:1157.6px;width:110.0px;height:1.0px;background:#DCDCDC;"></div><div style="left:477.0px;top:1157.1px;width:601.0px;height:2.0px;background:rgba(0,0,0,0.5);"></div><div style="left:0.0px;top:1184.2px;width:367.0px;height:2.0px;background:rgba(0,0,0,0.5);"></div><div style="left:367.0px;top:1184.7px;width:110.0px;height:1.0px;background:#DCDCDC;"></div><div style="left:477.0px;top:1184.2px;width:601.0px;height:2.0px;background:rgba(0,0,0,0.5);"></div><div style="left:0.0px;top:55.5px;width:1078.0px;height:1.5px;background:rgba(0,0,0,0.55);"></div><div style="left:54.0px;top:56.0px;width:2.0px;height:74.0px;background:rgba(0,0,0,0.55);"></div><div style="left:54.0px;top:130.0px;width:2.0px;height:1056.0px;background:rgba(0,0,0,0.4);"></div><div style="left:210.0px;top:56.0px;width:2.0px;height:74.0px;background:rgba(0,0,0,0.55);"></div><div style="left:210.0px;top:130.0px;width:2.0px;height:1056.0px;background:rgba(0,0,0,0.4);"></div><div style="left:366.0px;top:56.0px;width:2.0px;height:74.0px;background:rgba(0,0,0,0.55);"></div><div style="left:366.0px;top:130.0px;width:2.0px;height:1056.0px;background:rgba(0,0,0,0.4);"></div><div style="left:476.0px;top:56.0px;width:2.0px;height:74.0px;background:rgba(0,0,0,0.55);"></div><div style="left:476.0px;top:130.0px;width:2.0px;height:1056.0px;background:rgba(0,0,0,0.4);"></div><div style="left:591.0px;top:56.0px;width:2.0px;height:74.0px;background:rgba(0,0,0,0.55);"></div><div style="left:591.0px;top:130.0px;width:2.0px;height:1056.0px;background:rgba(0,0,0,0.4);"></div><div style="left:689.0px;top:56.0px;width:2.0px;height:74.0px;background:rgba(0,0,0,0.55);"></div><div style="left:689.0px;top:130.0px;width:2.0px;height:1056.0px;background:rgba(0,0,0,0.4);"></div><div style="left:785.0px;top:56.0px;width:2.0px;height:74.0px;background:rgba(0,0,0,0.55);"></div><div style="left:785.0px;top:130.0px;width:2.0px;height:1056.0px;background:rgba(0,0,0,0.4);"></div><div style="left:888.0px;top:56.0px;width:2.0px;height:74.0px;background:rgba(0,0,0,0.55);"></div><div style="left:888.0px;top:130.0px;width:2.0px;height:1056.0px;background:rgba(0,0,0,0.4);"></div><div style="left:964.0px;top:56.0px;width:2.0px;height:74.0px;background:rgba(0,0,0,0.55);"></div><div style="left:964.0px;top:130.0px;width:2.0px;height:1056.0px;background:rgba(0,0,0,0.4);"></div><div style="left:592.0px;top:130.0px;width:1.0px;height:1056.0px;background:#fff;"></div><div style="left:1078.0px;top:0.0px;width:2.0px;height:1186.0px;background:#111;"></div><div style="left:431.8px;top:134.0px;width:1.0px;height:1052.0px;background:repeating-linear-gradient(to bottom,#333 0 2px,transparent 2px 4px);"></div><div style="left:364.0px;top:126.0px;width:118.0px;height:1074.0px;border:8px solid #F00F0F;border-bottom:none;"></div></body></html>
